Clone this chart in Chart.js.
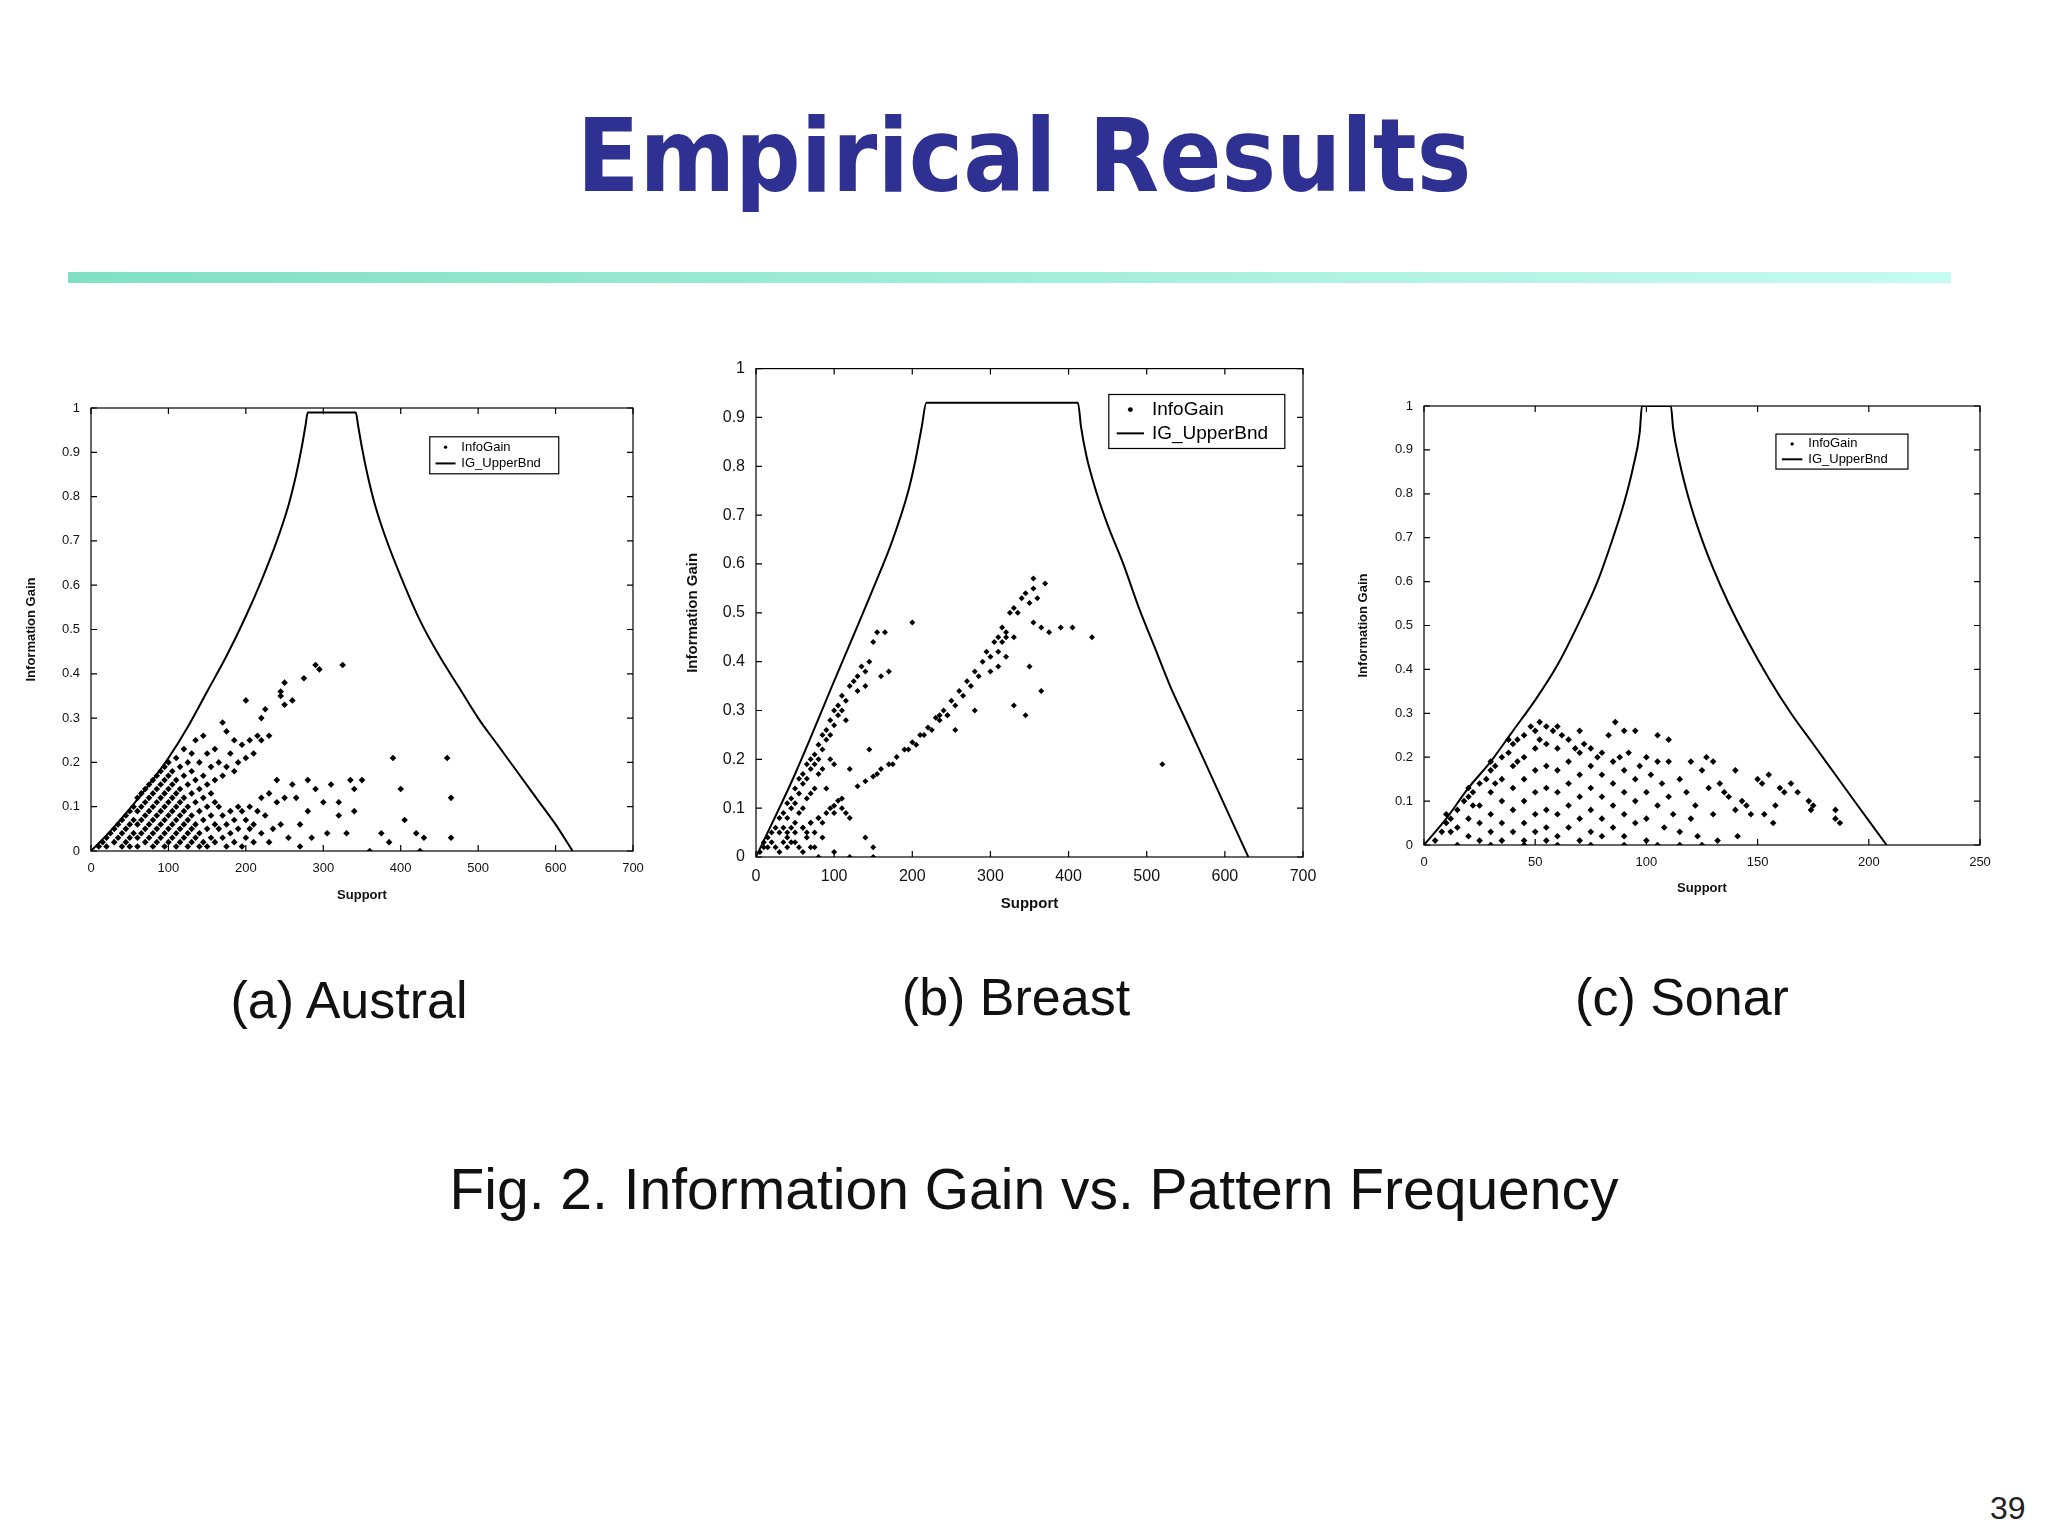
<!DOCTYPE html>
<html><head><meta charset="utf-8">
<script src="https://cdn.jsdelivr.net/npm/chart.js@4"></script>
<style>
body{margin:0;width:2048px;height:1536px;background:#fff;position:relative;overflow:hidden;font-family:"Liberation Sans",Arial,sans-serif}
.abs{position:absolute}
#title{left:0;width:2048px;top:96px;text-align:center;font-family:"DejaVu Sans Condensed","DejaVu Sans",sans-serif;font-weight:bold;font-size:102px;color:#2E3192;line-height:120px}
#rule{left:68px;top:272px;width:1883px;height:11px;background:linear-gradient(90deg,#7fe0c2,#c6fbf1)}
.cap{font-size:52px;color:#111;white-space:nowrap;transform:translateX(-50%)}
</style></head><body>
<div id="title" class="abs">Empirical Results</div>
<div id="rule" class="abs"></div>
<div class="abs" style="left:20px;top:396px;width:635px;height:511px"><canvas id="ca"></canvas></div>
<div class="abs" style="left:680px;top:356px;width:645px;height:561px"><canvas id="cb"></canvas></div>
<div class="abs" style="left:1352px;top:394px;width:658px;height:506px"><canvas id="cc"></canvas></div>
<div class="abs cap" style="left:349px;top:970px">(a) Austral</div>
<div class="abs cap" style="left:1016px;top:967px">(b) Breast</div>
<div class="abs cap" style="left:1682px;top:967px">(c) Sonar</div>
<div class="abs cap" style="left:1034px;top:1156px;font-size:57px">Fig. 2. Information Gain vs. Pattern Frequency</div>
<div class="abs" style="left:1990px;top:1490px;font-size:32px;color:#222">39</div>
<script>
// ---- data ----
const australBound = [[0,0],[25,0.045],[50,0.095],[75,0.15],[100,0.21],[125,0.28],[150,0.36],[175,0.44],[200,0.53],[220,0.61],[240,0.7],[255,0.78],[265,0.85],[272,0.91],[277,0.96],[280,0.99],[342,0.99],[345,0.96],[350,0.91],[357,0.85],[367,0.78],[380,0.71],[400,0.62],[425,0.52],[450,0.44],[475,0.37],[500,0.3],[525,0.24],[550,0.18],[575,0.12],[600,0.06],[622,0]];
const australGain = [10,0.01,15,0.02,20,0.03,20,0.01,25,0.04,30,0.05,30,0.02,35,0.06,35,0.03,40,0.07,40,0.04,40,0.01,45,0.08,45,0.05,45,0.02,50,0.09,50,0.06,50,0.03,50,0.01,55,0.1,55,0.07,55,0.04,60,0.12,60,0.09,60,0.06,60,0.03,60,0.01,65,0.13,65,0.1,65,0.07,65,0.04,70,0.14,70,0.11,70,0.08,70,0.05,70,0.02,75,0.15,75,0.12,75,0.09,75,0.06,75,0.03,80,0.16,80,0.13,80,0.1,80,0.07,80,0.04,80,0.01,85,0.17,85,0.14,85,0.11,85,0.08,85,0.05,85,0.02,90,0.18,90,0.15,90,0.12,90,0.09,90,0.06,90,0.03,95,0.19,95,0.16,95,0.13,95,0.1,95,0.07,95,0.04,95,0.01,100,0.2,100,0.17,100,0.14,100,0.11,100,0.08,100,0.05,100,0.02,105,0.18,105,0.15,105,0.12,105,0.09,105,0.06,105,0.03,110,0.21,110,0.16,110,0.13,110,0.1,110,0.07,110,0.04,110,0.01,115,0.19,115,0.14,115,0.11,115,0.08,115,0.05,115,0.02,120,0.23,120,0.17,120,0.12,120,0.09,120,0.06,120,0.03,125,0.2,125,0.15,125,0.1,125,0.07,125,0.04,125,0.01,130,0.22,130,0.18,130,0.13,130,0.08,130,0.05,130,0.02,135,0.25,135,0.16,135,0.11,135,0.06,135,0.03,140,0.2,140,0.14,140,0.09,140,0.04,140,0.01,145,0.26,145,0.17,145,0.12,145,0.07,145,0.02,150,0.22,150,0.15,150,0.1,150,0.05,150,0.01,155,0.19,155,0.13,155,0.08,155,0.03,160,0.23,160,0.16,160,0.11,160,0.06,160,0.02,165,0.2,165,0.1,165,0.05,170,0.29,170,0.17,170,0.08,170,0.03,175,0.27,175,0.19,175,0.06,175,0.01,180,0.22,180,0.09,180,0.04,185,0.25,185,0.18,185,0.07,185,0.02,190,0.2,190,0.1,190,0.05,195,0.24,195,0.09,195,0.01,200,0.34,200,0.21,200,0.07,200,0.03,205,0.25,205,0.1,205,0.05,210,0.22,210,0.06,210,0.02,215,0.26,215,0.09,220,0.3,220,0.25,220,0.12,220,0.04,225,0.32,225,0.08,230,0.26,230,0.13,230,0.02,235,0.05,240,0.16,240,0.11,245,0.36,245,0.35,245,0.06,250,0.33,250,0.38,250,0.12,255,0.03,260,0.34,260,0.15,265,0.12,270,0.06,270,0.01,275,0.39,280,0.16,280,0.09,285,0.03,290,0.42,290,0.14,295,0.41,300,0.11,305,0.04,310,0.15,320,0.11,320,0.08,325,0.42,330,0.04,335,0.16,340,0.09,340,0.14,350,0.16,360,0.0,375,0.04,385,0.02,390,0.21,400,0.14,405,0.07,420,0.04,425,0.0,430,0.03,460,0.21,465,0.12,465,0.03];
const breastBound = [[0,0],[50,0.17],[100,0.36],[150,0.55],[175,0.65],[195,0.75],[205,0.82],[212,0.88],[218,0.93],[412,0.93],[416,0.88],[423,0.82],[435,0.75],[450,0.68],[470,0.6],[490,0.51],[510,0.43],[530,0.35],[550,0.28],[570,0.21],[590,0.14],[610,0.07],[630,0]];
const breastGain = [5,0.01,10,0.02,10,0.03,15,0.04,15,0.02,20,0.05,20,0.03,25,0.06,25,0.02,30,0.08,30,0.05,30,0.01,35,0.09,35,0.06,35,0.03,40,0.11,40,0.08,40,0.05,40,0.02,45,0.12,45,0.1,45,0.06,50,0.14,50,0.11,50,0.07,50,0.03,55,0.16,55,0.13,55,0.09,55,0.02,60,0.17,60,0.15,60,0.1,60,0.06,65,0.19,65,0.16,65,0.12,65,0.04,70,0.2,70,0.18,70,0.13,70,0.07,70,0.02,75,0.21,75,0.19,75,0.14,75,0.05,80,0.23,80,0.2,80,0.17,80,0.08,85,0.25,85,0.22,85,0.18,85,0.04,90,0.26,90,0.24,90,0.14,95,0.28,95,0.25,95,0.2,100,0.3,100,0.27,100,0.19,100,0.09,100,0.01,105,0.31,105,0.29,110,0.33,110,0.3,110,0.1,115,0.32,115,0.28,115,0.09,120,0.35,120,0.18,120,0.08,125,0.36,130,0.37,130,0.34,135,0.39,140,0.38,140,0.35,145,0.4,145,0.22,140,0.04,150,0.44,150,0.02,155,0.46,160,0.37,165,0.46,170,0.38,200,0.48,40,0.04,50,0.05,60,0.06,70,0.07,80,0.08,90,0.09,100,0.105,105,0.115,110,0.12,45,0.03,65,0.05,85,0.07,95,0.1,75,0.02,60,0.01,80,0.0,120,0.0,150,0.0,130,0.145,140,0.155,150,0.165,160,0.18,170,0.19,180,0.205,190,0.22,200,0.235,210,0.25,220,0.265,230,0.285,240,0.3,250,0.32,260,0.34,270,0.36,280,0.38,290,0.4,295,0.42,155,0.17,175,0.19,195,0.22,215,0.25,235,0.28,255,0.31,275,0.35,285,0.37,205,0.23,225,0.26,245,0.29,265,0.33,300,0.41,305,0.44,310,0.45,315,0.47,320,0.46,325,0.5,330,0.51,335,0.5,340,0.53,345,0.54,350,0.52,355,0.57,355,0.55,360,0.53,370,0.56,310,0.42,315,0.44,300,0.38,320,0.41,310,0.39,320,0.45,330,0.45,355,0.48,365,0.47,375,0.46,390,0.47,405,0.47,430,0.45,350,0.39,365,0.34,330,0.31,345,0.29,280,0.3,255,0.26,235,0.29,245,0.29,520,0.19];
const sonarBound = [[0,0],[10,0.06],[20,0.13],[30,0.19],[40,0.26],[50,0.33],[60,0.41],[70,0.51],[78,0.6],[85,0.7],[90,0.78],[94,0.86],[97,0.94],[98,1],[111,1],[112,0.95],[115,0.87],[119,0.79],[124,0.71],[130,0.63],[137,0.55],[145,0.47],[155,0.38],[165,0.3],[175,0.23],[185,0.16],[195,0.09],[208,0]];
const sonarGain = [5,0.01,8,0.03,10,0.05,12,0.06,15,0.08,15,0.04,18,0.1,20,0.11,20,0.06,20,0.02,22,0.12,25,0.14,25,0.09,25,0.05,25,0.01,28,0.15,30,0.17,30,0.12,30,0.07,30,0.03,32,0.18,35,0.2,35,0.15,35,0.1,35,0.05,35,0.01,38,0.21,40,0.23,40,0.18,40,0.13,40,0.08,40,0.03,42,0.24,45,0.25,45,0.2,45,0.15,45,0.1,45,0.05,45,0.01,48,0.27,50,0.26,50,0.22,50,0.17,50,0.12,50,0.07,50,0.03,52,0.28,55,0.27,55,0.23,55,0.18,55,0.13,55,0.08,55,0.04,55,0.01,58,0.26,60,0.27,60,0.22,60,0.17,60,0.12,60,0.07,60,0.02,62,0.25,65,0.24,65,0.19,65,0.14,65,0.09,65,0.04,68,0.22,70,0.26,70,0.21,70,0.16,70,0.11,70,0.06,70,0.01,72,0.23,75,0.22,75,0.18,75,0.13,75,0.08,75,0.03,78,0.2,80,0.21,80,0.16,80,0.11,80,0.06,80,0.02,83,0.25,85,0.19,85,0.14,85,0.09,85,0.04,86,0.28,88,0.2,90,0.26,90,0.17,90,0.12,90,0.07,90,0.02,92,0.21,95,0.26,95,0.15,95,0.1,95,0.05,97,0.18,100,0.2,100,0.12,100,0.06,100,0.01,102,0.16,105,0.25,105,0.19,105,0.09,107,0.14,108,0.04,110,0.24,110,0.19,110,0.11,112,0.07,115,0.15,115,0.03,118,0.12,120,0.19,120,0.06,122,0.09,123,0.02,125,0.17,127,0.2,128,0.13,130,0.19,130,0.07,132,0.01,133,0.14,135,0.12,137,0.11,140,0.17,140,0.08,141,0.02,143,0.1,145,0.09,147,0.07,150,0.15,152,0.14,153,0.07,155,0.16,157,0.05,158,0.09,160,0.13,162,0.12,165,0.14,168,0.12,173,0.1,174,0.08,175,0.09,185,0.08,185,0.06,187,0.05,15,0.0,30,0.0,45,0.0,60,0.0,75,0.0,90,0.0,105,0.0,115,0.0,125,0.0,10,0.07,20,0.13,30,0.19,38,0.24,12,0.03,22,0.09,32,0.14,42,0.19,52,0.24];
const yTicks = [0,0.1,0.2,0.3,0.4,0.5,0.6,0.7,0.8,0.9,1];
const xTicks700 = [0,100,200,300,400,500,600,700];
const xTicks250 = [0,50,100,150,200,250];
const legendLabels = ['InfoGain','IG_UpperBnd'];

// ---- helpers ----
const pairs = a => { const o=[]; for(let i=0;i<a.length;i+=2) o.push({x:a[i],y:a[i+1]}); return o; };
const pts = a => a.map(p=>({x:p[0],y:p[1]}));
const FONT = '"Liberation Sans Narrow","Liberation Sans",Arial,sans-serif';

const framePlugin = {
  id:'frame',
  afterDraw(chart, args, o){
    const {ctx, chartArea:a, scales:{x,y}} = chart;
    ctx.save();
    ctx.strokeStyle='#000'; ctx.lineWidth=1.2;
    ctx.strokeRect(a.left,a.top,a.right-a.left,a.bottom-a.top);
    const L=6;
    ctx.beginPath();
    x.ticks.forEach(t=>{const px=x.getPixelForValue(t.value);
      ctx.moveTo(px,a.bottom);ctx.lineTo(px,a.bottom-L);ctx.moveTo(px,a.top);ctx.lineTo(px,a.top+L);});
    y.ticks.forEach(t=>{const py=y.getPixelForValue(t.value);
      ctx.moveTo(a.left,py);ctx.lineTo(a.left+L,py);ctx.moveTo(a.right,py);ctx.lineTo(a.right-L,py);});
    ctx.stroke();
    const w=a.right-a.left,h=a.bottom-a.top;
    const bx=a.left+o.fx*w, by=a.top+o.fy*h, bw=o.w, bh=o.h;
    ctx.fillStyle='#fff'; ctx.fillRect(bx,by,bw,bh);
    ctx.strokeRect(bx,by,bw,bh);
    ctx.fillStyle='#000';
    ctx.font=o.fs+'px '+FONT; ctx.textBaseline='middle';
    const r1=by+bh*0.28, r2=by+bh*0.72, sx=bx+bw*0.045, ex=bx+bw*0.2;
    ctx.beginPath(); ctx.arc((sx+ex)/2,r1,o.fs*0.13,0,Math.PI*2); ctx.fill();
    ctx.lineWidth=2; ctx.beginPath(); ctx.moveTo(sx,r2); ctx.lineTo(ex,r2); ctx.stroke();
    ctx.fillText(legendLabels[0],bx+bw*0.245,r1);
    ctx.fillText(legendLabels[1],bx+bw*0.245,r2);
    ctx.restore();
  }
};

function make(id, gain, bound, xmax, xticks, cfg){
  new Chart(document.getElementById(id),{
    type:'scatter',
    data:{datasets:[
      {label:legendLabels[0],data:pairs(gain),pointStyle:'rectRot',pointRadius:cfg.pr,backgroundColor:'#000',borderColor:'#000',borderWidth:0},
      {label:legendLabels[1],data:pts(bound),showLine:true,pointRadius:0,borderColor:'#000',borderWidth:2,cubicInterpolationMode:'monotone'}
    ]},
    options:{
      responsive:true,maintainAspectRatio:false,animation:false,
      layout:{padding:{top:cfg.pt,right:cfg.pr2,left:0,bottom:0}},
      plugins:{legend:{display:false},tooltip:{enabled:false},frame:cfg.leg},
      scales:{
        x:{type:'linear',min:0,max:xmax,afterBuildTicks:s=>{s.ticks=xticks.map(v=>({value:v}));},
           grid:{display:false},border:{display:false},
           ticks:{color:'#111',font:{family:FONT,size:cfg.tf},padding:2,maxRotation:0,callback:v=>String(v)},
           title:{display:true,text:'Support',color:'#111',font:{family:'"Liberation Sans",Arial',weight:'bold',size:cfg.af},padding:{top:cfg.xtp}},
           afterFit:s=>{s.height=cfg.xh;}},
        y:{min:0,max:1,afterBuildTicks:s=>{s.ticks=yTicks.map(v=>({value:v}));},
           grid:{display:false},border:{display:false},
           ticks:{color:'#111',font:{family:FONT,size:cfg.tf},padding:3,callback:v=>String(v)},
           title:{display:true,text:'Information Gain',color:'#111',font:{family:'"Liberation Sans",Arial',weight:'bold',size:cfg.af},padding:{bottom:cfg.ytp}},
           afterFit:s=>{s.width=cfg.yw;}}
      }
    },
    plugins:[framePlugin]
  });
}
make('ca',australGain,australBound,700,xTicks700,{pr:3.3,pt:12,pr2:22,tf:13,af:13,xh:56,yw:71,xtp:8,ytp:12,leg:{fx:0.625,fy:0.065,w:129,h:37,fs:13}});
make('cb',breastGain,breastBound,700,xTicks700,{pr:3,pt:12,pr2:22,tf:16,af:15,xh:60,yw:76,xtp:8,ytp:12,leg:{fx:0.645,fy:0.053,w:176,h:54,fs:19}});
make('cc',sonarGain,sonarBound,250,xTicks250,{pr:3.3,pt:12,pr2:30,tf:13,af:13,xh:55,yw:72,xtp:6,ytp:12,leg:{fx:0.633,fy:0.064,w:132,h:35,fs:13}});
</script>
</body></html>
